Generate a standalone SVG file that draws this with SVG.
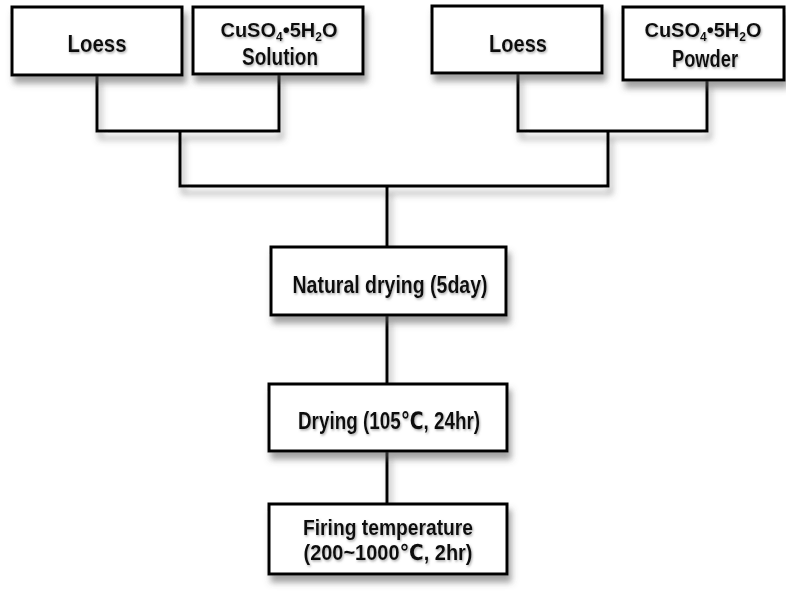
<svg xmlns="http://www.w3.org/2000/svg" width="786" height="603" viewBox="0 0 786 603">
  <style>
    .box { fill: #ffffff; stroke: #000000; stroke-width: 3; }
    .conn { fill: none; stroke: #000000; stroke-width: 3; stroke-linejoin: miter; }
    .lbl { font-family: "Liberation Sans", "DejaVu Sans", "Noto Sans CJK KR", sans-serif; font-weight: bold; font-size: 24px; fill: #111111; text-anchor: middle; }
    .sm { font-size: 22px; }
    .chem { font-size: 20px; }
    .sub { font-size: 12px; }
  </style>
  <defs>
    <filter id="sh" x="-20%" y="-30%" width="140%" height="170%">
      <feDropShadow dx="3" dy="7" stdDeviation="3" flood-color="#555555" flood-opacity="0.55"/>
    </filter>
    <filter id="tsh" x="-10%" y="-30%" width="120%" height="160%">
      <feDropShadow dx="1" dy="1.5" stdDeviation="1" flood-color="#777777" flood-opacity="0.6"/>
    </filter>
  </defs>
  <rect width="786" height="603" fill="#ffffff"/>

  <g id="connectors" filter="url(#sh)">
    <path class="conn" d="M97,75 V131 H279 V74"/>
    <path class="conn" d="M518,73 V131 H707 V80"/>
    <path class="conn" d="M180,131 V186 H608 V131"/>
    <path class="conn" d="M387,186 V247"/>
    <path class="conn" d="M387,315 V384"/>
    <path class="conn" d="M387,451 V504"/>
  </g>

  <g id="loess1">
    <rect class="box" x="12" y="7" width="170" height="68" filter="url(#sh)"/>
    <text class="lbl" x="97" y="52" textLength="59" lengthAdjust="spacingAndGlyphs" filter="url(#tsh)">Loess</text>
  </g>

  <g id="cuso4-solution">
    <rect class="box" x="193" y="7" width="170" height="67" filter="url(#sh)"/>
    <text class="lbl chem" x="279" y="37" filter="url(#tsh)">CuSO<tspan class="sub" dy="4">4</tspan><tspan dy="-4">•5H</tspan><tspan class="sub" dy="4">2</tspan><tspan dy="-4">O</tspan></text>
    <text class="lbl" x="280" y="65" textLength="76" lengthAdjust="spacingAndGlyphs" filter="url(#tsh)">Solution</text>
  </g>

  <g id="loess2">
    <rect class="box" x="432" y="6" width="170" height="67" filter="url(#sh)"/>
    <text class="lbl" x="518" y="52" textLength="58" lengthAdjust="spacingAndGlyphs" filter="url(#tsh)">Loess</text>
  </g>

  <g id="cuso4-powder">
    <rect class="box" x="623" y="7" width="161" height="73" filter="url(#sh)"/>
    <text class="lbl chem" x="703" y="37" filter="url(#tsh)">CuSO<tspan class="sub" dy="4">4</tspan><tspan dy="-4">•5H</tspan><tspan class="sub" dy="4">2</tspan><tspan dy="-4">O</tspan></text>
    <text class="lbl" x="705" y="67" textLength="66" lengthAdjust="spacingAndGlyphs" filter="url(#tsh)">Powder</text>
  </g>

  <g id="natural-drying">
    <rect class="box" x="271" y="247" width="235" height="68" filter="url(#sh)"/>
    <text class="lbl" x="390" y="293" textLength="195" lengthAdjust="spacingAndGlyphs" filter="url(#tsh)">Natural drying (5day)</text>
  </g>

  <g id="drying">
    <rect class="box" x="269" y="384" width="238" height="67" filter="url(#sh)"/>
    <text class="lbl" x="389" y="429" textLength="182" lengthAdjust="spacingAndGlyphs" filter="url(#tsh)">Drying (105℃, 24hr)</text>
  </g>

  <g id="firing">
    <rect class="box" x="269" y="504" width="238" height="70" filter="url(#sh)"/>
    <text class="lbl sm" x="388" y="535" textLength="170" lengthAdjust="spacingAndGlyphs" filter="url(#tsh)">Firing temperature</text>
    <text class="lbl sm" x="388" y="560" textLength="169" lengthAdjust="spacingAndGlyphs" filter="url(#tsh)">(200~1000℃, 2hr)</text>
  </g>
</svg>
